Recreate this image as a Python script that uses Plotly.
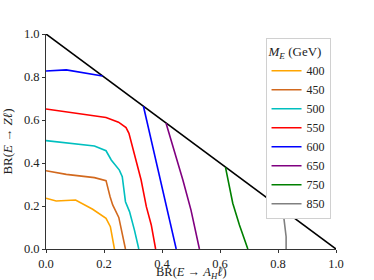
import plotly.graph_objects as go

# Diagonal boundary BR(A_H l) + BR(Z l) = 1
diag_x = [0.0, 1.0]
diag_y = [1.0, 0.0]

masses = ["400", "450", "500", "550", "600", "650", "750", "850"]
colors = ["#FFA500", "#D2691E", "#00BFBF", "#FF0000", "#0000FF", "#800080", "#008000", "#808080"]

x400 = [0.0, 0.035, 0.102, 0.161, 0.207, 0.222, 0.236]
y400 = [0.236, 0.223, 0.228, 0.185, 0.143, 0.104, 0.0]

x450 = [0.0, 0.07, 0.167, 0.207, 0.221, 0.23, 0.251, 0.274]
y450 = [0.364, 0.347, 0.332, 0.318, 0.243, 0.205, 0.147, 0.0]

x500 = [0.0, 0.167, 0.207, 0.225, 0.253, 0.263, 0.274, 0.288, 0.305, 0.32]
y500 = [0.504, 0.479, 0.457, 0.414, 0.367, 0.336, 0.22, 0.174, 0.088, 0.0]

x550 = [0.0, 0.1, 0.207, 0.25, 0.276, 0.286, 0.311, 0.328, 0.346, 0.363, 0.378]
y550 = [0.651, 0.632, 0.612, 0.59, 0.565, 0.538, 0.414, 0.321, 0.197, 0.112, 0.0]

x600 = [0.0, 0.07, 0.195, None, 0.336, 0.363, 0.403, 0.449]
y600 = [0.828, 0.833, 0.805, None, 0.664, 0.507, 0.274, 0.0]

x650 = [0.414, 0.437, 0.472, 0.5, 0.529]
y650 = [0.585, 0.484, 0.321, 0.181, 0.0]

x750 = [0.619, 0.63, 0.644, 0.667, 0.696]
y750 = [0.38, 0.306, 0.213, 0.112, 0.0]

x850 = [0.817, 0.822, 0.828, 0.828]
y850 = [0.181, 0.12, 0.057, 0.0]

xs = [x400, x450, x500, x550, x600, x650, x750, x850]
ys = [y400, y450, y500, y550, y600, y650, y750, y850]

tick_vals = [0.0, 0.2, 0.4, 0.6, 0.8, 1.0]
tick_text = ["0.0", "0.2", "0.4", "0.6", "0.8", "1.0"]

fig = go.Figure()
fig.add_trace(go.Scatter(x=diag_x, y=diag_y, mode="lines",
                         line=dict(color="black", width=1.6), showlegend=False,
                         cliponaxis=False))
for m, c, x, y in zip(masses, colors, xs, ys):
    fig.add_trace(go.Scatter(x=x, y=y, mode="lines", name=m,
                             line=dict(color=c, width=1.6), connectgaps=False))

font_family = "Liberation Serif"
axis_common = dict(
    range=[0, 1], showgrid=False, zeroline=False, showline=True,
    linecolor="#333333", linewidth=1, ticks="outside", ticklen=3,
    tickcolor="#333333", tickvals=tick_vals, ticktext=tick_text,
    tickfont=dict(family=font_family, size=12.5, color="#222222"),
    mirror=False, automargin=False,
)

fig.update_layout(
    width=374, height=280,
    margin=dict(l=46, r=38, t=34, b=31),
    plot_bgcolor="white", paper_bgcolor="white",
    font=dict(family=font_family, size=13, color="#222222"),
    xaxis=dict(axis_common),
    yaxis=dict(axis_common,
               title=dict(text="BR(<i>E</i> → <i>Zℓ</i>)",
                          font=dict(family=font_family, size=13))),
    legend=dict(
        title=dict(text="<i>M</i><sub><i>E</i></sub> (GeV)",
                   font=dict(family=font_family, size=13), side="top"),
        x=0.757, y=0.98, xanchor="left", yanchor="top",
        bgcolor="white", bordercolor="#d0d0d0", borderwidth=1,
        font=dict(family=font_family, size=12),
        tracegroupgap=0, itemwidth=30,
    ),
    annotations=[dict(
        text="BR(<i>E</i> → <i>A</i><sub><i>H</i></sub><i>ℓ</i>)",
        xref="paper", yref="paper", x=0.5, y=-0.16,
        xanchor="center", yanchor="bottom", showarrow=False,
        font=dict(family=font_family, size=12.5, color="#222222"),
    )],
)

fig.write_html("out.html", config={"displayModeBar": False},
               post_script="document.body.style.margin='0px';")
